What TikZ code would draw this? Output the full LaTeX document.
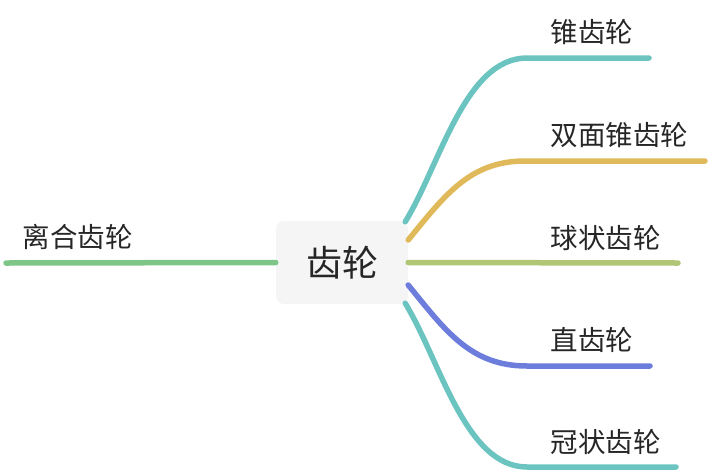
\documentclass[tikz,border=0pt]{standalone}
\usepackage{fontspec}
\setmainfont{Noto Sans CJK SC}
\usetikzlibrary{positioning}
\definecolor{cteal}{HTML}{6CC4C1}
\definecolor{cgold}{HTML}{E0B95B}
\definecolor{colive}{HTML}{B0C674}
\definecolor{cblue}{HTML}{6D7DDB}
\definecolor{cgreen}{HTML}{7DC688}

\begin{document}
\begin{tikzpicture}[x=1pt,y=-1pt,
    root/.style={fill=black!4, rounded corners=8pt, minimum width=132pt, minimum height=83pt,
      inner sep=0pt, text=black!85, font=\fontsize{36}{36}\selectfont},
    leaf/.style={anchor=base west, inner sep=0pt, text=black!85, font=\fontsize{27.5}{27.5}\selectfont},
    branch/.style={line width=5.5pt, line cap=round}]
        \useasboundingbox (0,0) rectangle (712,472);
        \node[root] (gear) at (342,262.5) {齿轮};

        \node[leaf] (bevel)  at (550.5,42.5)  {锥齿轮};
        \node[leaf] (dbevel) at (550.5,145.5) {双面锥齿轮};
        \node[leaf] (ball)   at (550.5,248)   {球状齿轮};
        \node[leaf] (spur)   at (550.5,350)   {直齿轮};
        \node[leaf] (crown)  at (550.5,452)   {冠状齿轮};
        \node[leaf] (clutch) at (22.5,247.5)  {离合齿轮};

        \coordinate (bevel-e)  at (649,58);
        \coordinate (dbevel-e) at (705,161);
        \coordinate (ball-e)   at (678,263);
        \coordinate (spur-e)   at (650,366);
        \coordinate (crown-e)  at (676,467);
        \coordinate (clutch-e) at (6,263);

        \draw[branch, cteal] ([shift={(-3,1)}]gear.north east) .. controls (440,165) and (465,58) .. (527,58) -- (bevel-e);
        \draw[branch, cgold] ([shift={(0,-22.5)}]gear.east) .. controls (445,195) and (470,161) .. (525,161) -- (dbevel-e);
        \draw[branch, colive] (gear.east) -- (ball-e);
        \draw[branch, cblue] ([shift={(0,22.5)}]gear.east) .. controls (445,330) and (470,366) .. (527,366) -- (spur-e);
        \draw[branch, cteal] ([shift={(-3,-1)}]gear.south east) .. controls (440,360) and (465,467) .. (527,467) -- (crown-e);
        \draw[branch, cgreen] (gear.west) -- (clutch-e);
      \end{tikzpicture}
\end{document}
